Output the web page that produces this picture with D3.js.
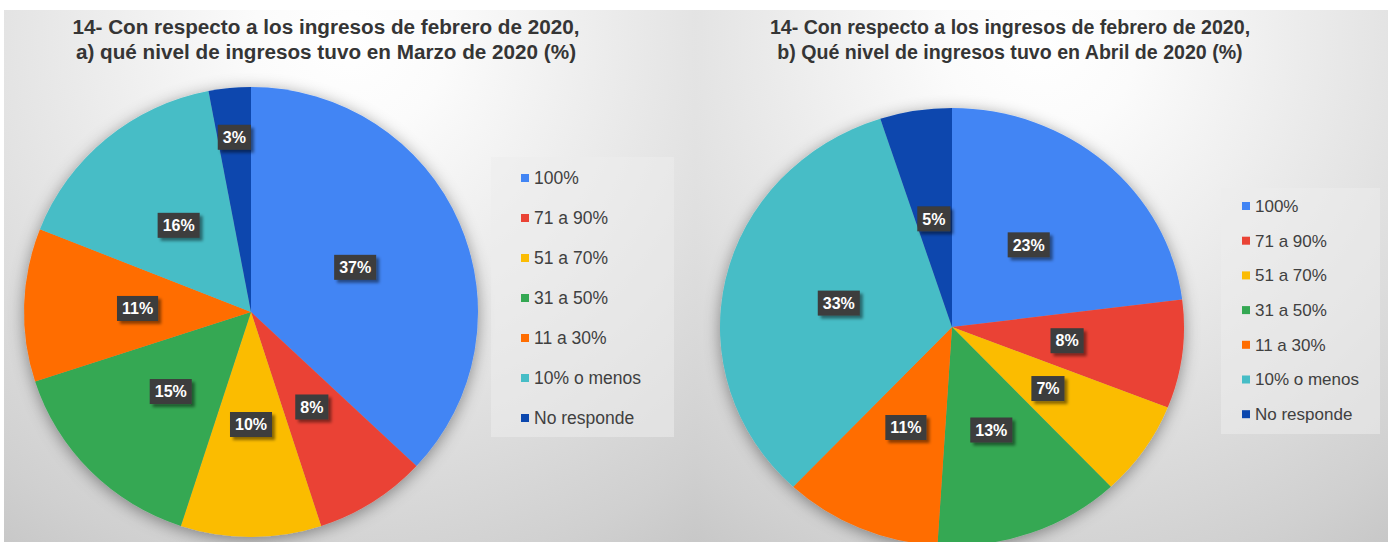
<!DOCTYPE html>
<html>
<head>
<meta charset="utf-8">
<script src="https://cdn.jsdelivr.net/npm/d3@7"></script>
<style>
  body { margin: 0; background: #fff; }
  svg { display: block; font-family: "Liberation Sans", Arial, sans-serif; }
</style>
</head>
<body>
<svg id="chart" width="1388" height="542"></svg>
<script>
// categories shared by both pies
const categories = ["100%", "71 a 90%", "51 a 70%", "31 a 50%", "11 a 30%", "10% o menos", "No responde"];
const colors = ["#4285f4", "#ea4335", "#fbbc04", "#34a853", "#ff6d01", "#46bdc6", "#0b47ae"];

// values (%)
const marzoValues = [37, 8, 10, 15, 11, 16, 3];
const abrilValues = [23, 8, 7, 13, 11, 33, 5];

const marzoTitle = ["14- Con respecto a los ingresos de febrero de 2020,", "a) qué nivel de ingresos tuvo en Marzo de 2020 (%)"];
const abrilTitle = ["14- Con respecto a los ingresos de febrero de 2020,", "b) Qué nivel de ingresos tuvo en Abril de 2020 (%)"];

const svg = d3.select("#chart");
const defs = svg.append("defs");

// soft shadow under the pies
const pieShadow = defs.append("filter").attr("id", "pieShadow")
    .attr("x", "-20%").attr("y", "-20%").attr("width", "140%").attr("height", "140%");
pieShadow.append("feDropShadow")
    .attr("dx", 0).attr("dy", 3).attr("stdDeviation", 8)
    .attr("flood-color", "#000").attr("flood-opacity", 0.4);

// shadow behind data label boxes
const boxShadow = defs.append("filter").attr("id", "boxShadow")
    .attr("x", "-30%").attr("y", "-30%").attr("width", "170%").attr("height", "170%");
boxShadow.append("feDropShadow")
    .attr("dx", 3).attr("dy", 3).attr("stdDeviation", 1.5)
    .attr("flood-color", "#000").attr("flood-opacity", 0.45);

const panels = [
    { id: "marzo", x: 4, w: 691, values: marzoValues, title: marzoTitle, titleX: 326, titleSize: 20.7,
      cx: 251, cy: 312, rx: 227, ry: 225,
      legend: { x: 491, y: 157, w: 183, h: 280, pad: 30, first: 178, step: 40, size: 17.5 } },
    { id: "abril", x: 695, w: 693, values: abrilValues, title: abrilTitle, titleX: 1010, titleSize: 19.6,
      cx: 952, cy: 327, rx: 232, ry: 219,
      legend: { x: 1221, y: 188, w: 159, h: 246, pad: 21, first: 206, step: 34.7, size: 17 } }
];

panels.forEach(p => {
    // background with radial light
    const grad = defs.append("radialGradient")
        .attr("id", "bg-" + p.id)
        .attr("gradientUnits", "userSpaceOnUse")
        .attr("cx", p.x + p.w / 2).attr("cy", 40).attr("r", 640);
    grad.append("stop").attr("offset", 0).attr("stop-color", "#ffffff");
    grad.append("stop").attr("offset", 0.15).attr("stop-color", "#fbfbfb");
    grad.append("stop").attr("offset", 0.55).attr("stop-color", "#e3e3e3");
    grad.append("stop").attr("offset", 0.85).attr("stop-color", "#d0d0d0");
    grad.append("stop").attr("offset", 1).attr("stop-color", "#c4c4c4");

    const g = svg.append("g");
    g.append("rect")
        .attr("x", p.x).attr("y", 10)
        .attr("width", p.w).attr("height", 532)
        .attr("fill", "url(#bg-" + p.id + ")");

    // title
    g.append("text")
        .attr("x", p.titleX).attr("y", 27)
        .attr("text-anchor", "middle")
        .attr("fill", "#353535")
        .attr("font-weight", "bold")
        .attr("font-size", p.titleSize)
        .selectAll("tspan")
        .data(p.title)
        .join("tspan")
        .attr("x", p.titleX)
        .attr("dy", (d, i) => i === 0 ? "0.35em" : 25)
        .text(d => d);

    // pie
    const pie = d3.pie().sort(null).value(d => d);
    const arcs = pie(p.values);
    const arc = d3.arc().innerRadius(0).outerRadius(p.rx);
    const pieG = g.append("g")
        .attr("transform", `translate(${p.cx},${p.cy}) scale(1,${p.ry / p.rx})`);
    pieG.append("g").attr("filter", "url(#pieShadow)")
        .selectAll("path")
        .data(arcs)
        .join("path")
        .attr("d", arc)
        .attr("fill", (d, i) => colors[i]);

    // data labels; very thin slices push their label outward
    const labelG = g.append("g").attr("transform", `translate(${p.cx},${p.cy})`);
    arcs.forEach(d => {
        const k = d.value < 4 ? 0.78 : 0.5;
        const a = (d.startAngle + d.endAngle) / 2;
        const lx = Math.sin(a) * p.rx * k;
        const ly = -Math.cos(a) * p.ry * k;
        const lab = labelG.append("g").attr("transform", `translate(${lx},${ly})`);
        const box = lab.append("rect").attr("fill", "#3c3c3c").attr("filter", "url(#boxShadow)");
        const t = lab.append("text")
            .attr("text-anchor", "middle")
            .attr("dy", "0.36em")
            .attr("fill", "#ffffff")
            .attr("font-weight", "bold")
            .attr("font-size", 16)
            .text(d.value + "%");
        const tw = t.node().getComputedTextLength();
        box.attr("x", -tw / 2 - 5).attr("y", -12.5)
            .attr("width", tw + 10).attr("height", 25);
    });

    // legend
    const L = p.legend;
    const leg = g.append("g");
    leg.append("rect")
        .attr("x", L.x).attr("y", L.y)
        .attr("width", L.w).attr("height", L.h)
        .attr("fill", "#ececec").attr("fill-opacity", 0.55);
    const items = leg.selectAll("g.item")
        .data(categories)
        .join("g")
        .attr("class", "item")
        .attr("transform", (d, i) => `translate(${L.x + L.pad},${L.first + i * L.step})`);
    items.append("rect")
        .attr("x", 0).attr("y", -4)
        .attr("width", 8).attr("height", 8)
        .attr("fill", (d, i) => colors[i]);
    items.append("text")
        .attr("x", 13).attr("dy", "0.35em")
        .attr("fill", "#404040")
        .attr("font-size", L.size)
        .text(d => d);
});
</script>
</body>
</html>
